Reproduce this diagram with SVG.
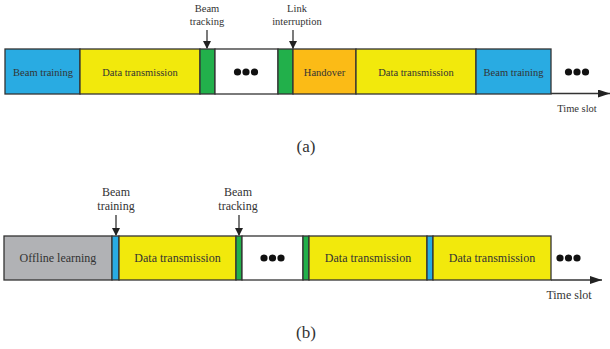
<svg xmlns="http://www.w3.org/2000/svg" width="610" height="349" viewBox="0 0 610 349">
<style>
.s{stroke:#333;stroke-width:1.3}
.t{font-family:"Liberation Serif",serif;fill:#333;text-anchor:middle}
.a{font-size:10.5px}
.b{font-size:12px}
.blue{fill:#29ABE2}.yel{fill:#F2E90C}.grn{fill:#22B04B}.org{fill:#FBBB16}.gry{fill:#B1B2B5}.wht{fill:#fff}
.ln{stroke:#333;stroke-width:1.3;fill:none}
</style>
<defs>
<marker id="ah" markerWidth="8" markerHeight="8" refX="7" refY="4" orient="auto" markerUnits="userSpaceOnUse"><path d="M0,0 L8,4 L0,8 Z" fill="#222"/></marker>
<marker id="ax" markerWidth="12" markerHeight="8" refX="12" refY="4" orient="auto" markerUnits="userSpaceOnUse"><path d="M0,0 L12,4 L0,8 Z" fill="#222"/></marker>
</defs>
<rect width="610" height="349" fill="#fff"/>
<!-- (a) -->
<g id="a-bt1"><rect class="s blue" x="5" y="49" width="75" height="45"/><text class="t a" x="43" y="76">Beam training</text></g>
<g id="a-dt1"><rect class="s yel" x="80" y="49" width="120" height="45"/><text class="t a" x="140" y="76">Data transmission</text></g>
<g id="a-tr1"><rect class="s grn" x="200" y="49" width="15" height="45"/></g>
<g id="a-dots"><rect class="s wht" x="215" y="49" width="63" height="45"/><circle cx="237.5" cy="72" r="3.6" fill="#111"/><circle cx="246" cy="72" r="3.6" fill="#111"/><circle cx="254.5" cy="72" r="3.6" fill="#111"/></g>
<g id="a-tr2"><rect class="s grn" x="278" y="49" width="15" height="45"/></g>
<g id="a-ho"><rect class="s org" x="293" y="49" width="63" height="45"/><text class="t a" x="324.5" y="76">Handover</text></g>
<g id="a-dt2"><rect class="s yel" x="356" y="49" width="120" height="45"/><text class="t a" x="416" y="76">Data transmission</text></g>
<g id="a-bt2"><rect class="s blue" x="476" y="49" width="75" height="45"/><text class="t a" x="513.5" y="76">Beam training</text></g>
<g id="a-end"><circle cx="568.5" cy="72" r="3.6" fill="#111"/><circle cx="577" cy="72" r="3.6" fill="#111"/><circle cx="585.5" cy="72" r="3.6" fill="#111"/></g>
<g id="a-lbl1"><text class="t a" x="207" y="12">Beam</text><text class="t a" x="207" y="25">tracking</text></g>
<g id="a-lbl2"><text class="t a" x="297" y="12">Link</text><text class="t a" x="297" y="25">interruption</text></g>
<text class="t a" x="577" y="112">Time slot</text>
<text class="t" x="306" y="152" font-size="17" fill="#111">(a)</text>
<!-- (b) -->
<g id="b-off"><rect class="s gry" x="4" y="236" width="108" height="44"/><text class="t b" x="58" y="262">Offline learning</text></g>
<g id="b-bt1"><rect class="s blue" x="112" y="236" width="7" height="44"/></g>
<g id="b-dt1"><rect class="s yel" x="119" y="236" width="117" height="44"/><text class="t b" x="177.5" y="262">Data transmission</text></g>
<g id="b-tr1"><rect class="s grn" x="236" y="236" width="6" height="44"/></g>
<g id="b-dots"><rect class="s wht" x="242" y="236" width="61" height="44"/><circle cx="264" cy="258" r="3.6" fill="#111"/><circle cx="272.5" cy="258" r="3.6" fill="#111"/><circle cx="281" cy="258" r="3.6" fill="#111"/></g>
<g id="b-tr2"><rect class="s grn" x="303" y="236" width="6" height="44"/></g>
<g id="b-dt2"><rect class="s yel" x="309" y="236" width="118" height="44"/><text class="t b" x="368" y="262">Data transmission</text></g>
<g id="b-bt2"><rect class="s blue" x="427" y="236" width="6" height="44"/></g>
<g id="b-dt3"><rect class="s yel" x="433" y="236" width="118" height="44"/><text class="t b" x="492" y="262">Data transmission</text></g>
<g id="b-end"><circle cx="560" cy="258" r="3.6" fill="#111"/><circle cx="568.5" cy="258" r="3.6" fill="#111"/><circle cx="577" cy="258" r="3.6" fill="#111"/></g>
<g id="b-lbl1"><text class="t b" x="116" y="196">Beam</text><text class="t b" x="116" y="210">training</text></g>
<g id="b-lbl2"><text class="t b" x="238" y="196">Beam</text><text class="t b" x="238" y="210">tracking</text></g>
<text class="t b" x="569" y="299">Time slot</text>
<text class="t" x="306" y="338" font-size="17" fill="#111">(b)</text>
<!-- connectors -->
<g id="connectors">
<line class="ln" x1="207" y1="30" x2="207" y2="48" marker-end="url(#ah)"/>
<line class="ln" x1="293" y1="30" x2="293" y2="48" marker-end="url(#ah)"/>
<line class="ln" x1="551" y1="93.5" x2="610" y2="93.5" marker-end="url(#ax)"/>
<line class="ln" x1="116" y1="215" x2="116" y2="235" marker-end="url(#ah)"/>
<line class="ln" x1="239" y1="215" x2="239" y2="235" marker-end="url(#ah)"/>
<line class="ln" x1="551" y1="280" x2="602" y2="280" marker-end="url(#ax)"/>
</g>
</svg>
